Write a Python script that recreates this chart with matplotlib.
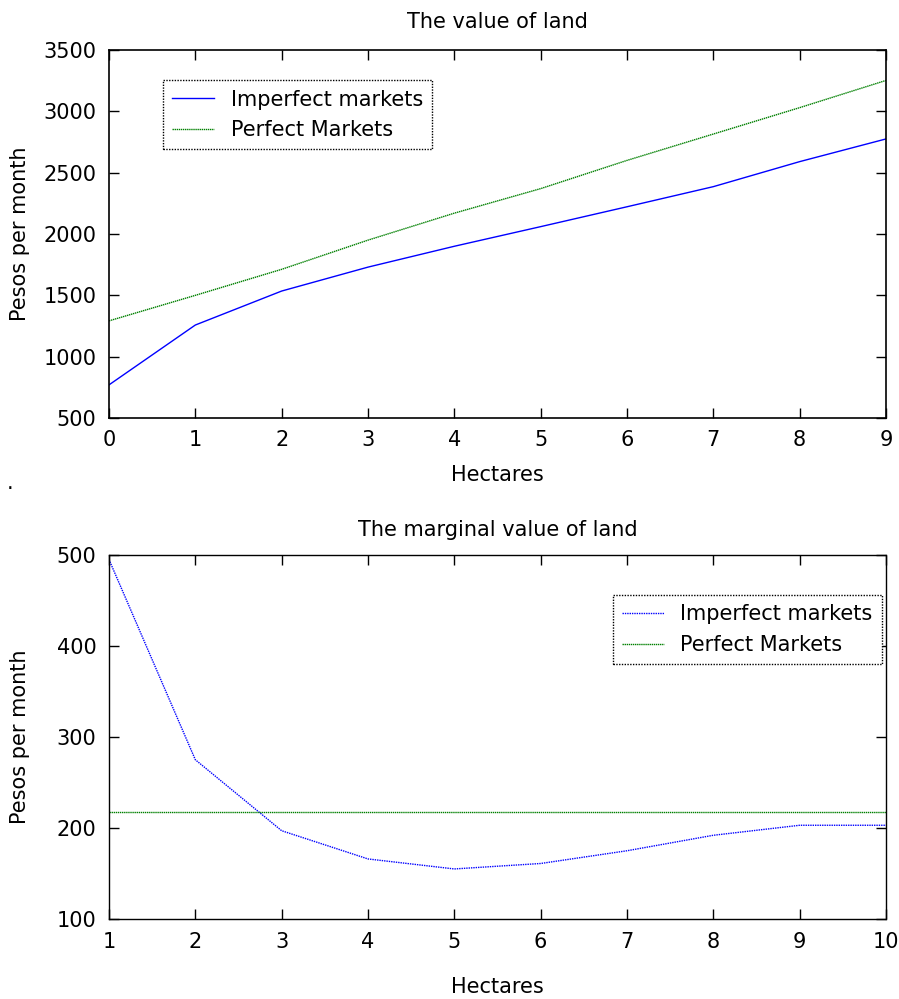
import matplotlib
matplotlib.use("Agg")
import matplotlib.pyplot as plt
import numpy as np

plt.rcParams['font.family'] = ['DejaVu Sans']

# Top panel data
hect_top = [0, 1, 2, 3, 4, 5, 6, 7, 8, 9]
imperfect_top = [770, 1258, 1535, 1730, 1900, 2060, 2222, 2386, 2590, 2775]
perfect_top = [1292, 1500, 1712, 1950, 2170, 2370, 2600, 2815, 3030, 3252]

# Bottom panel data
hect_bot = [1, 2, 3, 4, 5, 6, 7, 8, 9, 10]
imperfect_bot = [495, 275, 197, 166, 155, 161, 175, 192, 203, 203]
perfect_bot = [218, 218, 218, 218, 218, 218, 218, 218, 218, 218]

title_top = "The value of land"
title_bot = "The marginal value of land"
xlab = "Hectares"
ylab = "Pesos per month"
legend_labels = ["Imperfect markets", "Perfect Markets"]

fig = plt.figure(figsize=(8.99, 9.99), dpi=100)
fs = 15

def style(ax, dotted=False):
    ax.tick_params(direction='in', length=7, width=1, top=True, right=True,
                   labelsize=fs, pad=9)
    for s in ax.spines.values():
        s.set_linewidth(1.2 if not dotted else 1.0)
        s.set_color('black')
        if dotted:
            s.set_linestyle((0, (1, 1)))

def place_labels(ax, xl_y, yl_x=20):
    bb = ax.get_position()
    H = 999 * bb.height
    top_px = 999 * (1 - bb.y1)
    bot_px = top_px + H
    ax.xaxis.label.set_va('center')
    ax.xaxis.set_label_coords(0.5, -(xl_y - bot_px) / H)
    ax.yaxis.label.set_va('center')
    ax.yaxis.label.set_ha('center')
    ax.yaxis.set_label_coords(-(109 - yl_x) / 777, 0.5)

ax1 = fig.add_axes([109/899, 1-418/999, (886-109)/899, (418-50)/999])
ax1.plot(hect_top, imperfect_top, color='#0000ff', lw=1.0, label=legend_labels[0])
ax1.plot(hect_top, perfect_top, color='#008000', lw=1.0, ls=(0, (1, 0.5)), label=legend_labels[1])
ax1.set_xlim(0, 9)
ax1.set_ylim(500, 3500)
ax1.set_xticks(range(0, 10))
ax1.set_yticks(range(500, 3501, 500))
ax1.set_title(title_top, fontsize=fs, pad=16)
ax1.set_xlabel(xlab, fontsize=fs)
ax1.set_ylabel(ylab, fontsize=fs)
place_labels(ax1, 475)
style(ax1)
leg1 = ax1.legend(loc='upper left', bbox_to_anchor=(0.0695, 0.918), fontsize=fs,
                  fancybox=False, edgecolor='black', framealpha=1,
                  handlelength=2.0, handletextpad=0.8, borderpad=0.45,
                  labelspacing=0.5, borderaxespad=0)
leg1.get_frame().set_linestyle((0, (1, 1)))
leg1.get_frame().set_linewidth(1.0)

ax2 = fig.add_axes([109/899, 1-919/999, (886-109)/899, (919-555)/999])
ax2.plot(hect_bot, imperfect_bot, color='#0000ff', lw=1.0, ls=(0, (1, 0.7)), label=legend_labels[0])
ax2.plot(hect_bot, perfect_bot, color='#008000', lw=1.0, ls=(0, (1, 0.5)), label=legend_labels[1])
ax2.set_xlim(1, 10)
ax2.set_ylim(100, 500)
ax2.set_xticks(range(1, 11))
ax2.set_yticks(range(100, 501, 100))
ax2.set_title(title_bot, fontsize=fs, pad=14)
ax2.set_xlabel(xlab, fontsize=fs)
ax2.set_ylabel(ylab, fontsize=fs)
place_labels(ax2, 987)
style(ax2, dotted=True)
leg2 = ax2.legend(loc='upper right', bbox_to_anchor=(0.9949, 0.890), fontsize=fs,
                  fancybox=False, edgecolor='black', framealpha=1,
                  handlelength=2.0, handletextpad=0.8, borderpad=0.45,
                  labelspacing=0.5, borderaxespad=0)
leg2.get_frame().set_linestyle((0, (1, 1)))
leg2.get_frame().set_linewidth(1.0)

fig.text(10/899, 1-483/999, ".", fontsize=fs, ha='center', va='center')

fig.savefig("out.png", dpi=100)
